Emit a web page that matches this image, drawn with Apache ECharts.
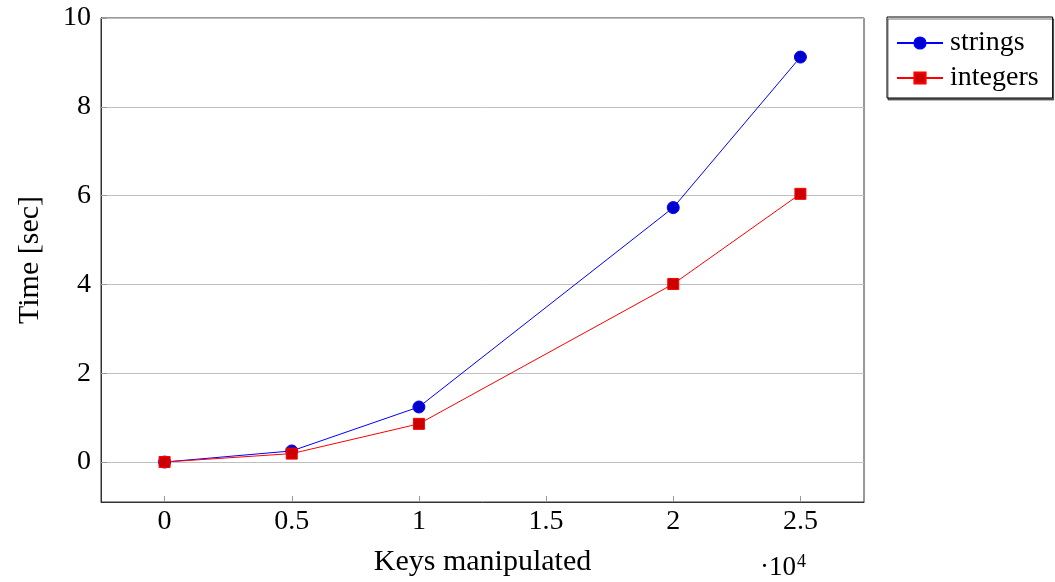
<!DOCTYPE html>
<html>
<head>
<meta charset="utf-8">
<script src="https://cdn.jsdelivr.net/npm/echarts@6/dist/echarts.min.js"></script>
<style>
  html, body { margin: 0; padding: 0; background: #fff; }
  #main { width: 1055px; height: 582px; }
</style>
</head>
<body>
<div id="main"></div>
<script>
// data
var keys = [0, 5000, 10000, 20000, 25000];
var stringsTime = [0, 0.25, 1.24, 5.73, 9.12];
var integersTime = [0, 0.19, 0.86, 4.01, 6.04];
var seriesNames = ['strings', 'integers'];

var FONT = 'Liberation Serif';

function pairs(xs, ys) {
  var out = [];
  for (var i = 0; i < xs.length; i++) out.push([xs[i], ys[i]]);
  return out;
}

var chart = echarts.init(document.getElementById('main'));
var option = {
  animation: false,
  backgroundColor: '#fff',
  textStyle: { fontFamily: FONT },
  grid: {
    left: 101, right: 191, top: 18, bottom: 80,
    show: true, borderColor: '#333', borderWidth: 1
  },
  legend: {
    data: seriesNames,
    orient: 'vertical',
    left: 887, top: 17,
    itemWidth: 46, itemHeight: 14,
    itemGap: 7,
    padding: [12, 14, 6, 9],
    borderColor: '#000', borderWidth: 1,
    backgroundColor: '#fff',
    shadowColor: 'rgba(0,0,0,0.55)', shadowOffsetX: 1, shadowOffsetY: 2, shadowBlur: 0,
    textStyle: { fontFamily: FONT, fontSize: 28, color: '#000', padding: [0, 0, 0, 2] }
  },
  xAxis: {
    type: 'value',
    min: -2500, max: 27500,
    splitNumber: 6,
    name: 'Keys manipulated',
    nameLocation: 'middle',
    nameGap: 45,
    nameTextStyle: { fontFamily: FONT, fontSize: 30, color: '#000' },
    axisLine: { show: true, onZero: false, lineStyle: { color: '#333', width: 1 } },
    axisTick: { show: true, inside: true, length: 6, lineStyle: { color: '#999' } },
    axisLabel: {
      margin: 6, fontFamily: FONT, fontSize: 28, color: '#000',
      showMinLabel: false, showMaxLabel: false,
      formatter: function (v) { return String(v / 10000); }
    },
    splitLine: { show: false }
  },
  yAxis: {
    type: 'value',
    min: -0.9, max: 10,
    splitNumber: 5,
    name: 'Time [sec]',
    nameLocation: 'middle',
    nameGap: 56,
    nameRotate: 90,
    nameTextStyle: { fontFamily: FONT, fontSize: 30, color: '#000' },
    axisLine: { show: true, onZero: false, lineStyle: { color: '#333', width: 1 } },
    axisTick: { show: true, inside: true, length: 6, lineStyle: { color: '#999' } },
    axisLabel: {
      margin: 10, fontFamily: FONT, fontSize: 28, color: '#000',
      showMinLabel: false,
      formatter: function (v) { return String(v); }
    },
    splitLine: { show: true, lineStyle: { color: '#c0c0c0', width: 1 } }
  },
  graphic: [{
    type: 'text',
    left: 760, top: 553,
    style: {
      text: '{a|·10}{b|4}',
      rich: {
        a: { fontFamily: FONT, fontSize: 27, fill: '#000' },
        b: { fontFamily: FONT, fontSize: 18, fill: '#000', padding: [0, 0, 12, 1] }
      }
    }
  }],
  series: [{
    name: seriesNames[0],
    type: 'line',
    data: pairs(keys, stringsTime),
    symbol: 'circle',
    symbolSize: 12,
    lineStyle: { color: '#0000ff', width: 1 },
    itemStyle: { color: '#0000cc', borderColor: '#0000ff', borderWidth: 1 }
  }, {
    name: seriesNames[1],
    type: 'line',
    data: pairs(keys, integersTime),
    symbol: 'rect',
    symbolSize: 11,
    lineStyle: { color: '#ff0000', width: 1 },
    itemStyle: { color: '#cc0000', borderColor: '#ff0000', borderWidth: 1 }
  }]
};
chart.setOption(option);
</script>
</body>
</html>
